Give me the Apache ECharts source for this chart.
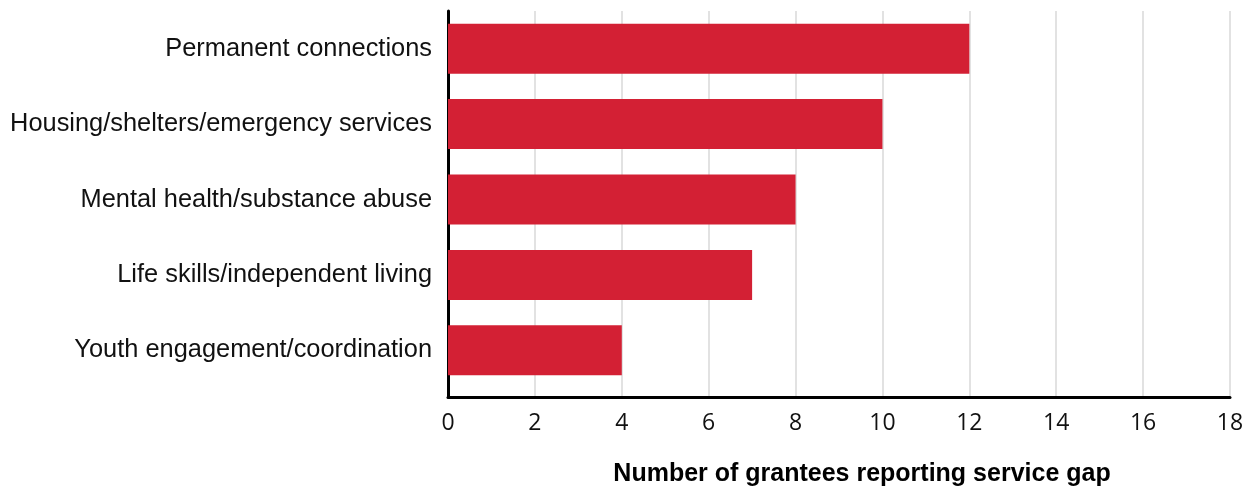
<!DOCTYPE html>
<html>
<head>
<meta charset="utf-8">
<script src="https://cdn.jsdelivr.net/npm/echarts@6/dist/echarts.min.js"></script>
<style>
  html, body { margin: 0; padding: 0; background: #fff; }
  #chart { width: 1252px; height: 489px; }
</style>
</head>
<body>
<div id="chart"></div>
<script>
// Service gaps reported by grantees
const categories = [
  'Permanent connections',
  'Housing/shelters/emergency services',
  'Mental health/substance abuse',
  'Life skills/independent living',
  'Youth engagement/coordination'
];
const grantees = [12, 10, 8, 7, 4];
const xTicks = { min: 0, max: 18, interval: 2 };
const axisTitle = 'Number of grantees reporting service gap';

const chart = echarts.init(document.getElementById('chart'));
const LEFT = 448, RIGHT = 22;

chart.setOption({
  animation: false,
  grid: [
    // bars
    { left: LEFT, right: RIGHT, top: 11, bottom: 101, outerBoundsMode: 'none', containLabel: false },
    // frame: axis lines, ticks, gridlines
    { left: LEFT, right: RIGHT, top: 11, bottom: 92, outerBoundsMode: 'none', containLabel: false }
  ],
  xAxis: [
    {
      gridIndex: 0, type: 'value', min: xTicks.min, max: xTicks.max, interval: xTicks.interval,
      show: false
    },
    {
      gridIndex: 1, type: 'value', min: xTicks.min, max: xTicks.max, interval: xTicks.interval,
      axisLine: { show: true, lineStyle: { color: '#000', width: 3 } },
      axisTick: { show: false },
      splitLine: { show: true, lineStyle: { color: '#d9d9d9', width: 1.5 } },
      axisLabel: { color: '#111', fontFamily: 'Open Sans', fontSize: 23, margin: 15 },
      name: axisTitle,
      nameLocation: 'middle',
      nameGap: 65,
      nameTextStyle: {
        fontFamily: 'Liberation Sans', fontWeight: 'bold', fontSize: 25, color: '#000',
        padding: [0, 0, 0, 46]
      }
    }
  ],
  yAxis: [
    {
      gridIndex: 0, type: 'category', data: categories, inverse: true,
      axisLine: { show: false },
      axisTick: { show: false },
      splitLine: { show: false },
      axisLabel: { color: '#111', fontFamily: 'Liberation Sans', fontSize: 25.4, margin: 16 }
    },
    {
      gridIndex: 1, type: 'value', min: 0, max: 1,
      axisLine: { show: true, lineStyle: { color: '#000', width: 3 } },
      axisTick: { show: false },
      axisLabel: { show: false },
      splitLine: { show: false }
    }
  ],
  series: [
    {
      type: 'bar',
      xAxisIndex: 0, yAxisIndex: 0,
      data: grantees,
      barWidth: 50,
      itemStyle: { color: '#d32034' },
      z: 3
    }
  ]
});
</script>
</body>
</html>
